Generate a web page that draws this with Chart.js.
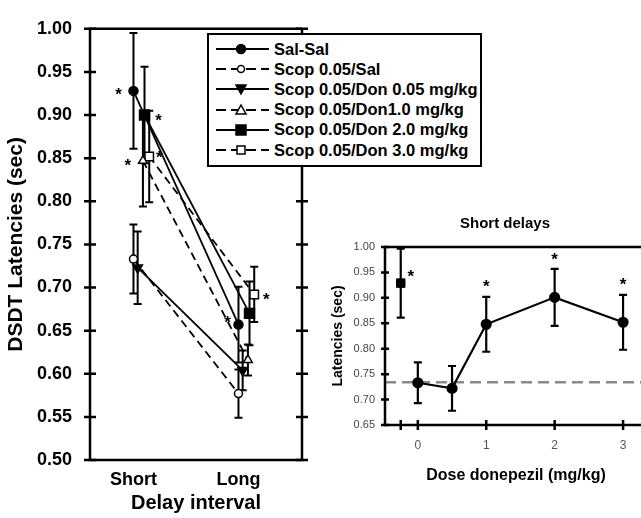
<!DOCTYPE html>
<html lang="en">
<head>
<meta charset="UTF-8">
<title>DSDT latencies - donepezil</title>
<script src="https://cdn.jsdelivr.net/npm/chart.js"></script>
<style>
  html, body { margin: 0; padding: 0; background: #fff; overflow: hidden; }
  body { width: 641px; height: 518px; position: relative; font-family: "Liberation Sans", Arial, sans-serif; }
  #left { position: absolute; left: 0; top: 0; }
  #right { position: absolute; left: 330px; top: 200px; }
  #rightTitle {
    position: absolute; left: 405px; top: 213px; width: 200px; text-align: center;
    font-weight: bold; font-size: 15px; line-height: 20px; color: #000;
  }
  #legend {
    position: absolute; left: 207px; top: 33px; width: 275px; height: 134px;
    box-sizing: border-box; border: 2px solid #000; background: #fff; padding-top: 4px;
  }
  .row { display: flex; align-items: center; height: 20.2px; font-weight: bold; font-size: 16.5px; color: #000; white-space: nowrap; }
  .row svg { margin-left: 7px; margin-right: 5px; flex: none; }
</style>
</head>
<body>

<canvas id="left" width="330" height="518"></canvas>
<canvas id="right" width="350" height="318"></canvas>
<div id="rightTitle">Short delays</div>
<div id="legend"></div>

<script>
// ---- left panel data (Short, Long) ----
const delays = ['Short', 'Long'];
const seriesNames = ['Sal-Sal', 'Scop 0.05/Sal', 'Scop 0.05/Don 0.05 mg/kg',
                     'Scop 0.05/Don1.0 mg/kg', 'Scop 0.05/Don 2.0 mg/kg', 'Scop 0.05/Don 3.0 mg/kg'];
const salSal    = [0.928, 0.657];
const salSalErr = [0.067, 0.044];
const scopSal    = [0.733, 0.577];
const scopSalErr = [0.040, 0.028];
const don005    = [0.723, 0.604];
const don005Err = [0.042, 0.023];
const don10    = [0.847, 0.616];
const don10Err = [0.053, 0.018];
const don20    = [0.900, 0.670];
const don20Err = [0.056, 0.037];
const don30    = [0.852, 0.692];
const don30Err = [0.053, 0.032];

// ---- right panel data (short delays by dose) ----
const doses      = [0, 0.5, 1, 2, 3];
const shortMeans = [0.733, 0.722, 0.848, 0.901, 0.852];
const shortErr   = [0.040, 0.044, 0.054, 0.056, 0.054];
const refDose = [-0.25];
const refMean = [0.929];
const refErr  = [0.068];
const baseline = 0.734;
const doseTicks = [-0.25, 0, 1, 2, 3];

// significance marks: dataset index, point index, pixel nudge
const leftStars  = [[0, 0, -15, 0], [4, 0, 14, 2], [3, 0, -15, 2], [5, 0, 10, -2], [0, 1, -11, -5], [5, 1, 12, 2]];
const rightStars = [[1, 0, 10, -10, false], [0, 2, 0, -14, true], [0, 3, 0, -13, true], [0, 4, 0, -13, true]];

// styles for the six left series
const styles = [
  { dodge: 0,     dash: [],     point: 'circle',   r: 4.5, fill: '#000' },
  { dodge: 0,     dash: [8, 5], point: 'circle',   r: 4,   fill: '#fff' },
  { dodge: 0.04,  dash: [],     point: 'triangle', r: 5.5, fill: '#000', rot: 180 },
  { dodge: 0.09,  dash: [8, 5], point: 'triangle', r: 5,   fill: '#fff' },
  { dodge: 0.105, dash: [],     point: 'rect',     r: 7,   fill: '#000' },
  { dodge: 0.15,  dash: [8, 5], point: 'rect',     r: 6,   fill: '#fff' }
];
const leftValues = [salSal, scopSal, don005, don10, don20, don30];
const leftErrors = [salSalErr, scopSalErr, don005Err, don10Err, don20Err, don30Err];

const errorBars = {
  id: 'errorBars',
  beforeDatasetsDraw(chart, args, opts) {
    const ctx = chart.ctx, xs = chart.scales.x, ys = chart.scales.y;
    ctx.save();
    ctx.strokeStyle = '#000';
    ctx.lineWidth = opts.width;
    chart.data.datasets.forEach(ds => {
      if (!ds.err) return;
      ds.data.forEach((p, i) => {
        const px = xs.getPixelForValue(p.x);
        const top = ys.getPixelForValue(p.y + ds.err[i]);
        const bot = ys.getPixelForValue(p.y - ds.err[i]);
        const c = opts.cap;
        ctx.beginPath();
        ctx.moveTo(px, top); ctx.lineTo(px, bot);
        ctx.moveTo(px - c, top); ctx.lineTo(px + c, top);
        ctx.moveTo(px - c, bot); ctx.lineTo(px + c, bot);
        ctx.stroke();
      });
    });
    ctx.restore();
  }
};

const frame = {
  id: 'frame',
  afterDraw(chart, args, o) {
    const ctx = chart.ctx, a = chart.chartArea, xs = chart.scales.x, ys = chart.scales.y;
    ctx.save();
    ctx.strokeStyle = '#000';
    ctx.lineWidth = o.width;
    ctx.beginPath();
    ctx.moveTo(a.right + (o.right ? 0 : 40), a.top);
    ctx.lineTo(a.left, a.top);
    ctx.lineTo(a.left, a.bottom);
    ctx.lineTo(a.right + (o.right ? 0 : 40), a.bottom);
    if (o.right) { ctx.lineTo(a.right, a.top); }
    ctx.stroke();
    ctx.beginPath();
    ys.ticks.forEach(t => {
      const py = ys.getPixelForValue(t.value);
      ctx.moveTo(a.left - o.tick, py); ctx.lineTo(a.left + o.tick, py);
      if (o.right) { ctx.moveTo(a.right - o.tick, py); ctx.lineTo(a.right + o.tick, py); }
    });
    if (o.xTicks) {
      xs.ticks.forEach(t => {
        const px = xs.getPixelForValue(t.value);
        ctx.moveTo(px, a.bottom - o.xTicks); ctx.lineTo(px, a.bottom + o.xTicks);
      });
    }
    ctx.stroke();
    ctx.restore();
  }
};

const stars = {
  id: 'stars',
  afterDatasetsDraw(chart, args, o) {
    const ctx = chart.ctx, ys = chart.scales.y;
    ctx.save();
    ctx.fillStyle = '#000';
    ctx.font = 'bold 17px "Liberation Sans", Arial, sans-serif';
    ctx.textAlign = 'center';
    ctx.textBaseline = 'middle';
    o.marks.forEach(([d, i, dx, dy, aboveErr]) => {
      const ds = chart.data.datasets[d];
      const el = chart.getDatasetMeta(d).data[i];
      let py = el.y;
      if (aboveErr) py = ys.getPixelForValue(ds.data[i].y + ds.err[i]);
      ctx.fillText('*', el.x + dx, py + dy + 4);
    });
    ctx.restore();
  }
};

const boldFont = (size) => ({ family: '"Liberation Sans", Arial, sans-serif', size: size, weight: 'bold' });

// ---- left chart ----
new Chart(document.getElementById('left'), {
  type: 'scatter',
  data: {
    datasets: leftValues.map((vals, s) => ({
      label: seriesNames[s],
      data: vals.map((v, i) => ({ x: i + 1 + styles[s].dodge, y: v })),
      err: leftErrors[s],
      showLine: true,
      borderColor: '#000',
      borderWidth: 1.8,
      borderDash: styles[s].dash,
      pointStyle: styles[s].point,
      pointRadius: styles[s].r,
      pointRotation: styles[s].rot || 0,
      pointBackgroundColor: styles[s].fill,
      pointBorderColor: '#000',
      pointBorderWidth: 1.5
    }))
  },
  options: {
    responsive: false,
    animation: false,
    layout: { padding: { top: 20, right: 28, left: 0, bottom: 0 } },
    plugins: {
      legend: { display: false },
      tooltip: { enabled: false },
      errorBars: { width: 2, cap: 4 },
      frame: { width: 2.5, tick: 6, right: true },
      stars: { marks: leftStars }
    },
    scales: {
      x: {
        type: 'linear', min: 0.586, max: 2.605,
        afterBuildTicks: s => { s.ticks = [{ value: 1 }, { value: 2 }]; },
        afterFit: s => { s.height = 58; },
        grid: { display: false, drawTicks: false },
        border: { display: false },
        ticks: { callback: v => delays[Math.round(v) - 1], font: boldFont(18), color: '#000', padding: 9, maxRotation: 0, autoSkip: false },
        title: { display: true, text: 'Delay interval', font: boldFont(20), color: '#000', padding: { top: 0, bottom: 3 } }
      },
      y: {
        min: 0.5, max: 1.0,
        afterFit: s => { s.width = 90; },
        grid: { display: false, drawTicks: false },
        border: { display: false },
        ticks: { stepSize: 0.05, callback: v => v.toFixed(2), font: boldFont(18), color: '#000', padding: 18 },
        title: { display: true, text: 'DSDT Latencies (sec)', font: boldFont(21), color: '#000', padding: { top: 4, bottom: 0 } }
      }
    }
  },
  plugins: [errorBars, frame, stars]
});

// ---- right chart ----
new Chart(document.getElementById('right'), {
  type: 'scatter',
  data: {
    datasets: [
      {
        data: doses.map((d, i) => ({ x: d, y: shortMeans[i] })),
        err: shortErr,
        showLine: true,
        borderColor: '#000', borderWidth: 2.2,
        pointRadius: 4.5, pointBackgroundColor: '#000', pointBorderColor: '#000'
      },
      {
        data: refDose.map((d, i) => ({ x: d, y: refMean[i] })),
        err: refErr,
        pointStyle: 'rect', pointRadius: 6, pointBackgroundColor: '#000', pointBorderColor: '#000'
      },
      {
        data: [{ x: -0.48, y: baseline }, { x: 3.35, y: baseline }],
        showLine: true, pointRadius: 0,
        borderColor: '#8a8a8a', borderWidth: 2.5, borderDash: [11, 6]
      }
    ]
  },
  options: {
    responsive: false,
    animation: false,
    layout: { padding: { top: 47, right: 33, left: 0, bottom: 0 } },
    plugins: {
      legend: { display: false },
      tooltip: { enabled: false },
      errorBars: { width: 2.2, cap: 4 },
      frame: { width: 2.5, tick: 4, right: false, xTicks: 5 },
      stars: { marks: rightStars }
    },
    scales: {
      x: {
        type: 'linear', min: -0.48, max: 3.35,
        afterBuildTicks: s => { s.ticks = doseTicks.map(v => ({ value: v })); },
        afterFit: s => { s.height = 93; },
        grid: { display: false, drawTicks: false },
        border: { display: false },
        ticks: { callback: v => (v < 0 ? '' : String(v)), font: { family: '"Liberation Sans", Arial, sans-serif', size: 12 }, color: '#555', padding: 13, maxRotation: 0, autoSkip: false },
        title: { display: true, text: 'Dose donepezil (mg/kg)', font: boldFont(16), color: '#000', padding: { top: 0, bottom: 33 } }
      },
      y: {
        min: 0.65, max: 1.0,
        afterFit: s => { s.width = 55; },
        grid: { display: false, drawTicks: false },
        border: { display: false },
        ticks: { stepSize: 0.05, callback: v => v.toFixed(2), font: { family: '"Liberation Sans", Arial, sans-serif', size: 11 }, color: '#444', padding: 10 },
        title: { display: true, text: 'Latencies (sec)', font: boldFont(14), color: '#000', padding: { top: 0, bottom: 0 } }
      }
    }
  },
  plugins: [errorBars, frame, stars]
});

// ---- legend ----
function sample(s) {
  const st = styles[s];
  const cx = 25, cy = 7;
  let mark = '';
  if (st.point === 'circle') {
    mark = `<circle cx="${cx}" cy="${cy}" r="${st.fill === '#000' ? 4.5 : 3.5}" fill="${st.fill}" stroke="#000" stroke-width="1.5"/>`;
  } else if (st.point === 'triangle') {
    const pts = st.rot ? `${cx-5},${cy-4} ${cx+5},${cy-4} ${cx},${cy+5}` : `${cx-5},${cy+4} ${cx+5},${cy+4} ${cx},${cy-5}`;
    mark = `<polygon points="${pts}" fill="${st.fill}" stroke="#000" stroke-width="1.5"/>`;
  } else {
    const h = st.fill === '#000' ? 5 : 4;
    mark = `<rect x="${cx-h}" y="${cy-h}" width="${2*h}" height="${2*h}" fill="${st.fill}" stroke="#000" stroke-width="1.5"/>`;
  }
  const dash = st.dash.length ? 'stroke-dasharray="10,5"' : '';
  return `<svg width="53" height="14"><line x1="0" y1="${cy}" x2="53" y2="${cy}" stroke="#000" stroke-width="2" ${dash}/>${mark}</svg>`;
}
document.getElementById('legend').innerHTML = seriesNames
  .map((n, s) => `<div class="row">${sample(s)}<span>${n}</span></div>`).join('');
</script>

</body>
</html>
